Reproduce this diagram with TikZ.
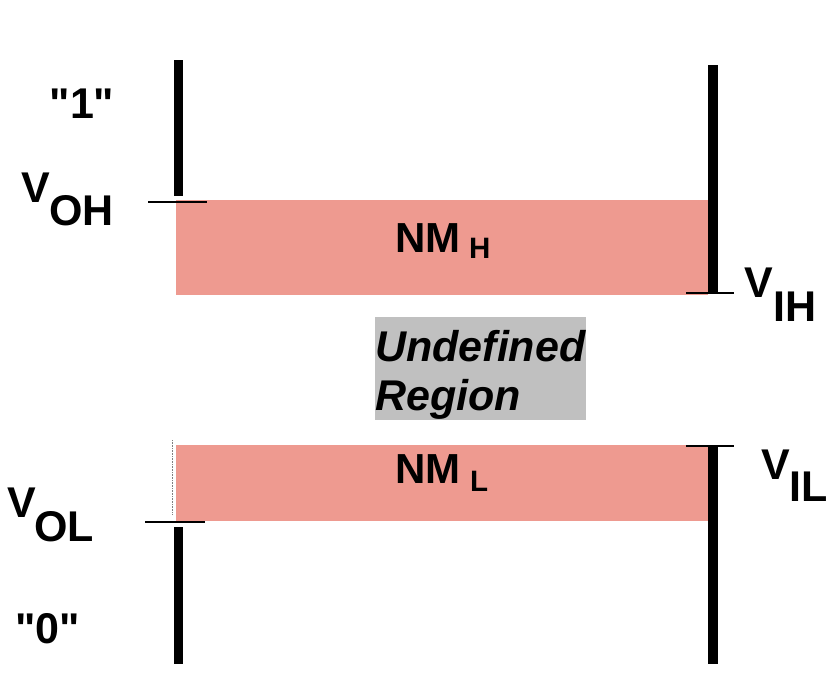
\documentclass[tikz,border=0pt]{standalone}
\usepackage{fontspec}
\setmainfont{Liberation Sans}[Ligatures=TeXOff]
\definecolor{nmpink}{HTML}{EE9A90}
\definecolor{undefgray}{HTML}{C0C0C0}
\begin{document}
\begin{tikzpicture}[x=1pt,y=-1pt,
  bar/.style={line width=9.5pt},
  tick/.style={line width=2pt},
  big/.style={inner sep=0pt,anchor=base west,font=\fontsize{43}{43}\selectfont\bfseries},
  sub/.style={inner sep=0pt,anchor=base west,font=\fontsize{43}{43}\selectfont\bfseries},
  nm/.style={inner sep=0pt,anchor=base west,font=\fontsize{42}{42}\selectfont\bfseries},
  nmsub/.style={inner sep=0pt,anchor=base west,font=\fontsize{29.5}{29.5}\selectfont\bfseries},
  undef/.style={inner sep=0pt,anchor=base west,font=\fontsize{43}{43}\selectfont\bfseries\itshape}]
\useasboundingbox (0,0) rectangle (838,688);
% regions
\fill[nmpink] (176,200) rectangle (708,295);
\fill[nmpink] (176,445) rectangle (708,521);
\fill[undefgray] (375,317) rectangle (586,420);
\draw[gray,densely dotted,line width=0.6pt] (172,440) -- (172,515);
% bars
\coordinate (lt1) at (178.5,60);  \coordinate (lt2) at (178.5,196);
\coordinate (rt1) at (713,65);    \coordinate (rt2) at (713,293);
\coordinate (lb1) at (178.5,527); \coordinate (lb2) at (178.5,664);
\coordinate (rb1) at (713,446);   \coordinate (rb2) at (713,664);
\draw[bar] (lt1) -- (lt2);
\draw[bar] (rt1) -- (rt2);
\draw[bar] (lb1) -- (lb2);
\draw[bar] (rb1) -- (rb2);
% ticks
\coordinate (t1a) at (148,202); \coordinate (t1b) at (207,202);
\coordinate (t2a) at (686,293); \coordinate (t2b) at (734,293);
\coordinate (t3a) at (145,522); \coordinate (t3b) at (205,522);
\coordinate (t4a) at (686,446); \coordinate (t4b) at (734,446);
\draw[tick] (t1a) -- (t1b);
\draw[tick] (t2a) -- (t2b);
\draw[tick] (t3a) -- (t3b);
\draw[tick] (t4a) -- (t4b);
% labels
\node[big,anchor=base] (one) at (82,118) {"1"};
\node[big,anchor=base] (zero) at (47.5,643) {"0"};
\node[big] (voh) at (21,202) {V};
\node[sub] (voh s) at (49,225) {OH};
\node[big] (vih) at (744,297) {V};
\node[sub] (vih s) at (773,321) {IH};
\node[big] (vil) at (761,479) {V};
\node[sub] (vil s) at (789,501) {IL};
\node[big] (vol) at (7,517) {V};
\node[sub] (vol s) at (34,541) {OL};
\node[nm] (nmh) at (395,252) {NM};
\node[nmsub] (nmh s) at (469,258) {H};
\node[nm] (nml) at (395,483) {NM};
\node[nmsub] (nml s) at (470,491) {L};
\node[undef] (und1) at (375,361) {Undefined};
\node[undef] (und2) at (375,410) {Region};
\end{tikzpicture}
\end{document}
